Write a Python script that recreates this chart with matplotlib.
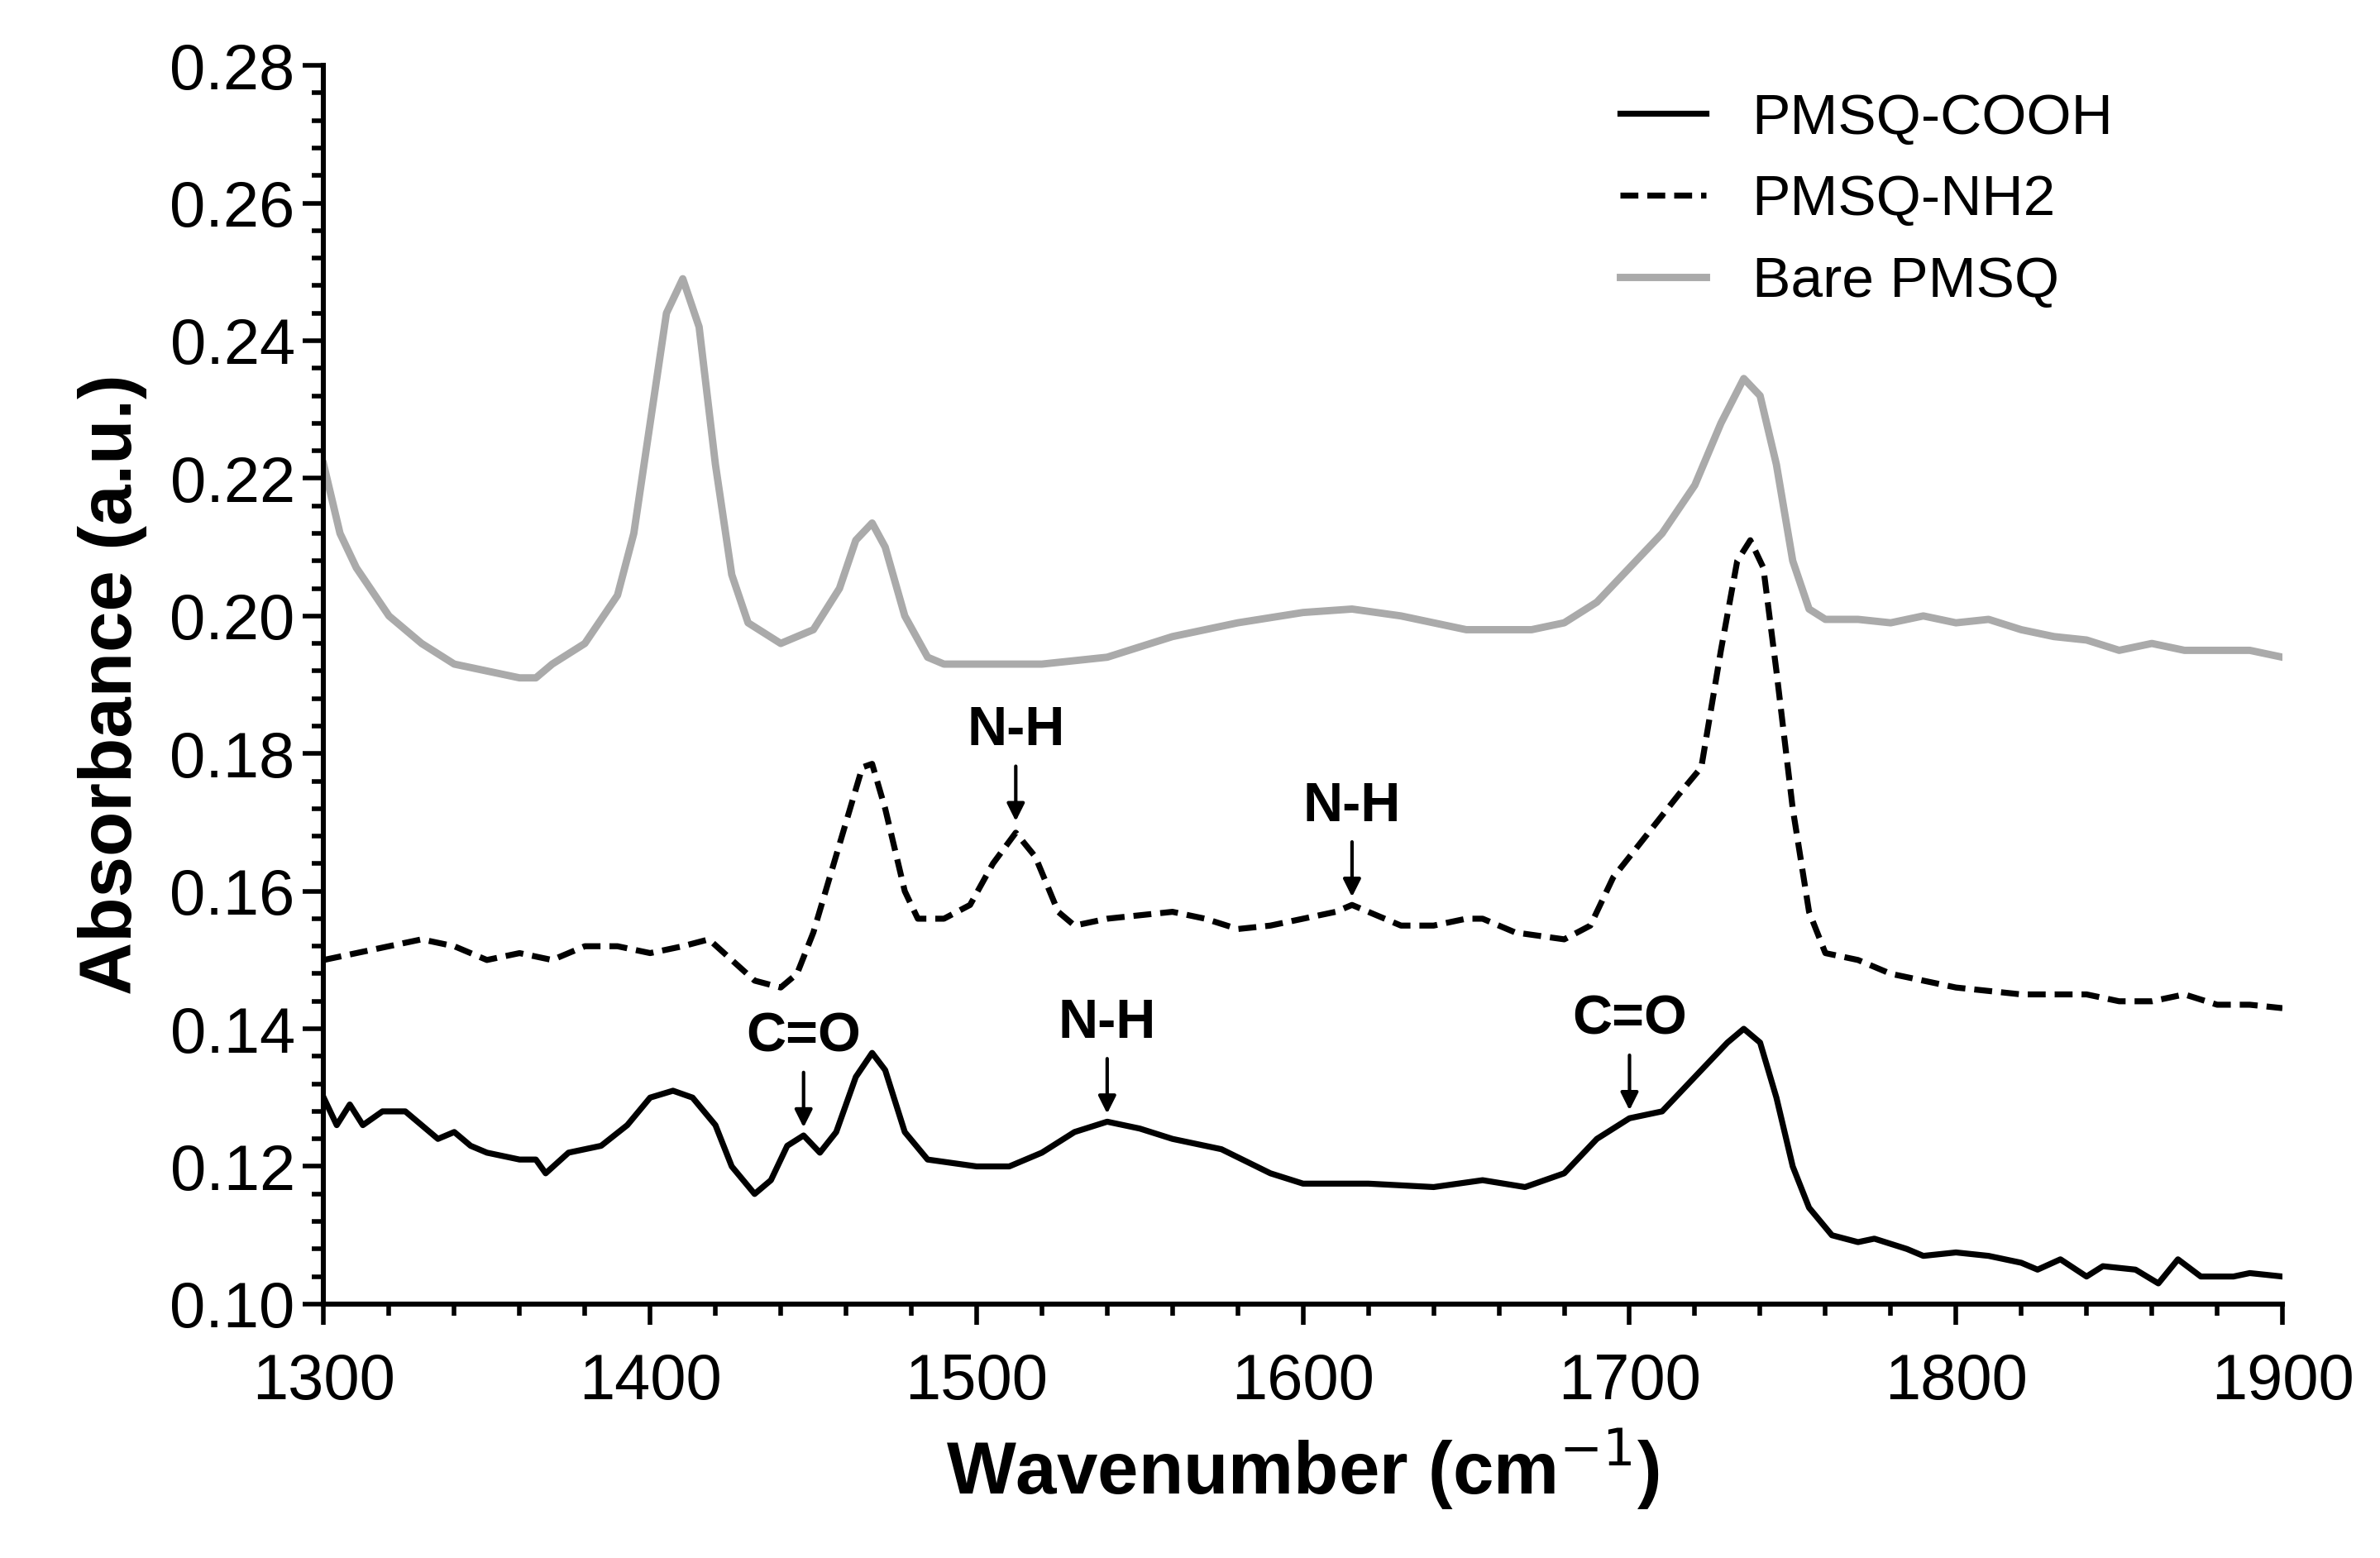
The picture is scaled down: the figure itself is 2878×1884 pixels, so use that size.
import matplotlib
matplotlib.use("Agg")
import matplotlib.pyplot as plt
from matplotlib.ticker import MultipleLocator

plt.rcParams['font.family'] = 'Liberation Sans'

bare_x = [1300,1305,1310,1320,1330,1340,1350,1360,1365,1370,1380,1390,1395,1400,1405,1410,1415,1420,1425,1430,1440,1450,1458,1463,1468,1472,1478,1485,1490,1500,1510,1520,1540,1560,1580,1600,1615,1630,1650,1670,1680,1690,1700,1710,1720,1728,1735,1740,1745,1750,1755,1760,1770,1780,1790,1800,1810,1820,1830,1840,1850,1860,1870,1880,1890,1900]
bare_y = [0.222,0.212,0.207,0.200,0.196,0.193,0.192,0.191,0.191,0.193,0.196,0.203,0.212,0.228,0.244,0.249,0.242,0.222,0.206,0.199,0.196,0.198,0.204,0.211,0.2135,0.210,0.200,0.194,0.193,0.193,0.193,0.193,0.194,0.197,0.199,0.2005,0.201,0.200,0.198,0.198,0.199,0.202,0.207,0.212,0.219,0.228,0.2345,0.232,0.222,0.208,0.201,0.1995,0.1995,0.199,0.200,0.199,0.1995,0.198,0.197,0.1965,0.195,0.196,0.195,0.195,0.195,0.194]

nh2_x = [1300,1310,1320,1330,1340,1350,1360,1370,1380,1390,1400,1410,1418,1425,1432,1440,1445,1450,1455,1460,1465,1468,1472,1478,1482,1490,1498,1505,1512,1518,1525,1530,1540,1550,1560,1570,1580,1590,1600,1610,1615,1620,1630,1640,1650,1655,1665,1680,1688,1695,1705,1715,1722,1728,1733,1737,1741,1745,1750,1755,1760,1770,1780,1790,1800,1810,1820,1830,1840,1850,1860,1870,1880,1890,1900]
nh2_y = [0.150,0.151,0.152,0.153,0.152,0.150,0.151,0.150,0.152,0.152,0.151,0.152,0.153,0.150,0.147,0.146,0.148,0.154,0.162,0.170,0.178,0.1785,0.172,0.160,0.156,0.156,0.158,0.164,0.1685,0.165,0.157,0.155,0.156,0.1565,0.157,0.156,0.1545,0.155,0.156,0.157,0.158,0.157,0.155,0.155,0.156,0.156,0.154,0.153,0.155,0.162,0.168,0.174,0.178,0.195,0.208,0.211,0.207,0.192,0.172,0.157,0.151,0.150,0.148,0.147,0.146,0.1455,0.145,0.145,0.145,0.144,0.144,0.145,0.1435,0.1435,0.143]

cooh_x = [1300,1304,1308,1312,1318,1325,1330,1335,1340,1345,1350,1360,1365,1368,1375,1385,1393,1400,1407,1413,1420,1425,1432,1437,1442,1447,1452,1457,1463,1468,1472,1478,1485,1500,1510,1520,1530,1540,1550,1560,1575,1590,1600,1620,1640,1655,1668,1680,1690,1700,1710,1720,1730,1735,1740,1745,1750,1755,1762,1770,1775,1785,1790,1800,1810,1820,1825,1832,1840,1845,1855,1862,1868,1875,1885,1890,1900]
cooh_y = [0.130,0.126,0.129,0.126,0.128,0.128,0.126,0.124,0.125,0.123,0.122,0.121,0.121,0.119,0.122,0.123,0.126,0.130,0.131,0.130,0.126,0.120,0.116,0.118,0.123,0.1245,0.122,0.125,0.133,0.1365,0.134,0.125,0.121,0.120,0.120,0.122,0.125,0.1265,0.1255,0.124,0.1225,0.119,0.1175,0.1175,0.117,0.118,0.117,0.119,0.124,0.127,0.128,0.133,0.138,0.140,0.138,0.130,0.120,0.114,0.110,0.109,0.1095,0.108,0.107,0.1075,0.107,0.106,0.105,0.1065,0.104,0.1055,0.105,0.103,0.1065,0.104,0.104,0.1045,0.104]

annot_labels = ["N-H", "N-H", "C=O", "N-H", "C=O"]
annot_x = [1512, 1615, 1447, 1540, 1700]
annot_y = [0.169, 0.158, 0.1245, 0.1265, 0.127]

fig = plt.figure(figsize=(14.39, 9.42), dpi=200)
ax = fig.add_axes([0.136, 0.163, 0.823, 0.795])
ax.plot(cooh_x, cooh_y, color='black', lw=2.6, label='PMSQ-COOH')
ax.plot(nh2_x, nh2_y, color='black', lw=2.6, ls=(0, (3, 1.5)), label='PMSQ-NH2')
ax.plot(bare_x, bare_y, color='#aaaaaa', lw=3.2, label='Bare PMSQ')

for lab, x, y in zip(annot_labels, annot_x, annot_y):
    ax.annotate(lab, xy=(x, y + 0.0005), xytext=(x, y + 0.0105),
                ha='center', va='bottom', fontsize=24, fontweight='bold',
                arrowprops=dict(arrowstyle='-|>', color='black', lw=1.5, mutation_scale=16))

ax.set_xlim(1300, 1900)
ax.set_ylim(0.10, 0.28)
ax.xaxis.set_major_locator(MultipleLocator(100))
ax.xaxis.set_minor_locator(MultipleLocator(20))
ax.yaxis.set_major_locator(MultipleLocator(0.02))
ax.yaxis.set_minor_locator(MultipleLocator(0.004))
ax.set_yticklabels([f"{v:.2f}" for v in ax.get_yticks()])
ax.tick_params(which='major', length=9, width=2, labelsize=28, direction='out')
ax.tick_params(which='minor', length=5, width=2, direction='out')
ax.tick_params(axis='x', pad=12)
for s in ['top', 'right']:
    ax.spines[s].set_visible(False)
for s in ['left', 'bottom']:
    ax.spines[s].set_linewidth(2.2)
ax.set_xlabel('Wavenumber (cm$^{-1}$)', fontsize=32, fontweight='bold', labelpad=6)
ax.set_ylabel('Absorbance (a.u.)', fontsize=32, fontweight='bold', labelpad=10)
ax.legend(loc='upper right', fontsize=25, frameon=False, handlelength=1.5, bbox_to_anchor=(0.94, 1.02))
fig.savefig('out.png', dpi=200)
